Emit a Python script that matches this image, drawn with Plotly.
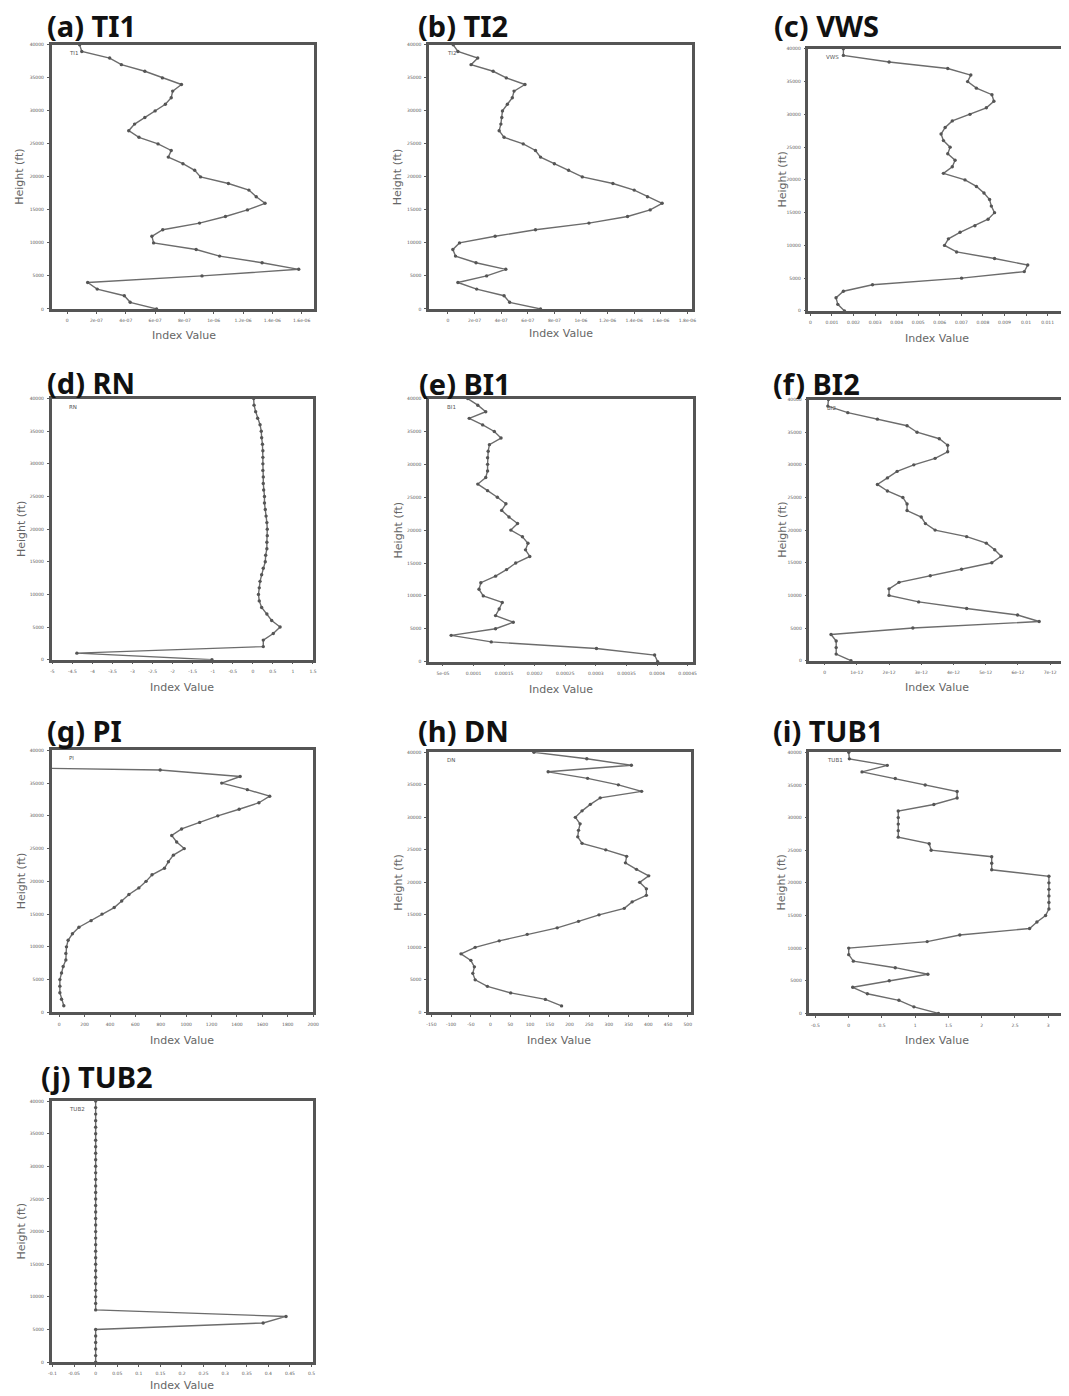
import plotly.graph_objects as go

# The page body has an 8px margin; the figure is sized/positioned to compensate.
PAGE_OFF = 8
W, H = 1069 - PAGE_OFF, 1396 - PAGE_OFF

# ---------------- data ----------------
heights_ft = [0, 1000, 2000, 3000, 4000, 5000, 6000, 7000, 8000, 9000, 10000,
              11000, 12000, 13000, 14000, 15000, 16000, 17000, 18000, 19000, 20000,
              21000, 22000, 23000, 24000, 25000, 26000, 27000, 28000, 29000, 30000,
              31000, 32000, 33000, 34000, 35000, 36000, 37000, 38000, 39000, 40000]

ti1 = [6.1e-07, 4.3e-07, 3.9e-07, 2.05e-07, 1.4e-07, 9.2e-07, 1.58e-06, 1.33e-06, 1.04e-06, 8.8e-07,
       5.9e-07, 5.78e-07, 6.52e-07, 9.03e-07, 1.08e-06, 1.23e-06, 1.35e-06, 1.29e-06, 1.24e-06, 1.10e-06,
       9.1e-07, 8.7e-07, 7.9e-07, 6.9e-07, 7.1e-07, 6.2e-07, 4.9e-07, 4.2e-07, 4.6e-07, 5.3e-07,
       6.0e-07, 6.7e-07, 7.1e-07, 7.2e-07, 7.8e-07, 6.5e-07, 5.3e-07, 3.7e-07, 2.9e-07, 1.0e-07, 8.5e-08]

ti2 = [6.96e-07, 4.64e-07, 4.22e-07, 2.16e-07, 7.5e-08, 2.91e-07, 4.35e-07, 2.11e-07, 5.7e-08, 3.7e-08,
       8.7e-08, 3.55e-07, 6.58e-07, 1.06e-06, 1.35e-06, 1.52e-06, 1.61e-06, 1.50e-06, 1.40e-06, 1.24e-06,
       1.01e-06, 9.07e-07, 8.0e-07, 6.96e-07, 6.58e-07, 5.66e-07, 4.22e-07, 3.85e-07, 3.98e-07, 4.05e-07,
       4.10e-07, 4.47e-07, 4.84e-07, 4.97e-07, 5.79e-07, 4.39e-07, 3.40e-07, 1.74e-07, 2.24e-07, 7.5e-08, 4.0e-08]

vws = [0.00158, 0.00127, 0.00119, 0.00153, 0.00288, 0.00701, 0.00992, 0.01008, 0.00854, 0.00678,
       0.00622, 0.00640, 0.00694, 0.00763, 0.00824, 0.00854, 0.00839, 0.00831, 0.00805, 0.00770,
       0.00717, 0.00617, 0.00658, 0.00671, 0.00637, 0.00648, 0.00617, 0.00606, 0.00625, 0.00658,
       0.00740, 0.00816, 0.00851, 0.00842, 0.00770, 0.00729, 0.00744, 0.00637, 0.00365, 0.00153, 0.00153]

rn = [-1.02, -4.39, 0.26, 0.26, 0.51, 0.68, 0.47, 0.35, 0.22, 0.16,
      0.14, 0.16, 0.18, 0.22, 0.26, 0.31, 0.32, 0.35, 0.35, 0.36,
      0.36, 0.35, 0.33, 0.31, 0.29, 0.29, 0.27, 0.26, 0.26, 0.25,
      0.25, 0.25, 0.25, 0.24, 0.22, 0.21, 0.18, 0.12, 0.07, 0.03, 0.02]

bi1 = [4.01e-04, 3.96e-04, 3.01e-04, 1.29e-04, 6.35e-05, 1.36e-04, 1.65e-04, 1.36e-04, 1.42e-04, 1.47e-04,
       1.16e-04, 1.09e-04, 1.12e-04, 1.36e-04, 1.54e-04, 1.69e-04, 1.92e-04, 1.85e-04, 1.89e-04, 1.80e-04,
       1.61e-04, 1.72e-04, 1.58e-04, 1.46e-04, 1.53e-04, 1.39e-04, 1.23e-04, 1.07e-04, 1.20e-04, 1.23e-04,
       1.23e-04, 1.23e-04, 1.24e-04, 1.26e-04, 1.45e-04, 1.34e-04, 1.15e-04, 9.3e-05, 1.20e-04, 1.07e-04, 9.05e-05]

bi2 = [8.2e-13, 3.6e-13, 3.6e-13, 3.6e-13, 2.0e-13, 2.74e-12, 6.66e-12, 5.99e-12, 4.41e-12, 2.92e-12,
       2.0e-12, 2.0e-12, 2.31e-12, 3.28e-12, 4.25e-12, 5.19e-12, 5.48e-12, 5.28e-12, 5.02e-12, 4.41e-12,
       3.43e-12, 3.13e-12, 3.0e-12, 2.56e-12, 2.56e-12, 2.43e-12, 1.95e-12, 1.64e-12, 1.95e-12, 2.25e-12,
       2.77e-12, 3.43e-12, 3.82e-12, 3.82e-12, 3.56e-12, 2.87e-12, 2.56e-12, 1.64e-12, 7.2e-13, 1.0e-13, 1.2e-13]

# -9999 = undefined value (drawn toward the frame, as in the original plot)
pi = [None, 36, 18, 5, 5, 5, 18, 31, 52, 52,
      57, 70, 104, 155, 251, 337, 433, 492, 549, 627,
      684, 731, 829, 860, 899, 985, 925, 886, 964, 1106,
      1249, 1417, 1573, 1658, 1482, 1280, 1425, 795, -9999, -9999, -9999]

dn = [None, 180, 139, 51, -8, -39, -45, -41, -50, -75,
      -39, 22, 93, 169, 223, 275, 339, 359, 395, 395,
      378, 401, 370, 342, 345, 292, 232, 221, 223, 227,
      215, 232, 253, 278, 383, 324, 246, 146, 357, 244, 110]

tub1 = [1.35, 0.98, 0.755, 0.28, 0.06, 0.61, 1.19, 0.70, 0.07, 0.0,
        0.0, 1.18, 1.67, 2.72, 2.83, 2.96, 3.01, 3.01, 3.01, 3.01,
        3.01, 3.01, 2.15, 2.15, 2.15, 1.24, 1.21, 0.745, 0.745, 0.745,
        0.745, 0.745, 1.28, 1.63, 1.63, 1.15, 0.70, 0.20, 0.58, 0.01, 0.0]

tub2 = [0, 0, 0, 0, 0, 0, 0.388, 0.441, 0, 0,
        0, 0, 0, 0, 0, 0, 0, 0, 0, 0,
        0, 0, 0, 0, 0, 0, 0, 0, 0, 0,
        0, 0, 0, 0, 0, 0, 0, 0, 0, 0, 0]

# tick labels
y_tickvals = [0, 5000, 10000, 15000, 20000, 25000, 30000, 35000, 40000]
y_ticktext = ["0", "5000", "10000", "15000", "20000", "25000", "30000", "35000", "40000"]

ti1_tickvals = [0, 2e-7, 4e-7, 6e-7, 8e-7, 1e-6, 1.2e-6, 1.4e-6, 1.6e-6]
ti1_ticktext = ["0", "2e-07", "4e-07", "6e-07", "8e-07", "1e-06", "1.2e-06", "1.4e-06", "1.6e-06"]
ti2_tickvals = [0, 2e-7, 4e-7, 6e-7, 8e-7, 1e-6, 1.2e-6, 1.4e-6, 1.6e-6, 1.8e-6]
ti2_ticktext = ["0", "2e-07", "4e-07", "6e-07", "8e-07", "1e-06", "1.2e-06", "1.4e-06", "1.6e-06", "1.8e-06"]
vws_tickvals = [0, 0.001, 0.002, 0.003, 0.004, 0.005, 0.006, 0.007, 0.008, 0.009, 0.01, 0.011]
vws_ticktext = ["0", "0.001", "0.002", "0.003", "0.004", "0.005", "0.006", "0.007", "0.008", "0.009", "0.01", "0.011"]
rn_tickvals = [-5, -4.5, -4, -3.5, -3, -2.5, -2, -1.5, -1, -0.5, 0, 0.5, 1, 1.5]
rn_ticktext = ["-5", "-4.5", "-4", "-3.5", "-3", "-2.5", "-2", "-1.5", "-1", "-0.5", "0", "0.5", "1", "1.5"]
bi1_tickvals = [5e-5, 1e-4, 1.5e-4, 2e-4, 2.5e-4, 3e-4, 3.5e-4, 4e-4, 4.5e-4]
bi1_ticktext = ["5e-05", "0.0001", "0.00015", "0.0002", "0.00025", "0.0003", "0.00035", "0.0004", "0.00045"]
bi2_tickvals = [0, 1e-12, 2e-12, 3e-12, 4e-12, 5e-12, 6e-12, 7e-12]
bi2_ticktext = ["0", "1e-12", "2e-12", "3e-12", "4e-12", "5e-12", "6e-12", "7e-12"]
pi_tickvals = [0, 200, 400, 600, 800, 1000, 1200, 1400, 1600, 1800, 2000]
pi_ticktext = ["0", "200", "400", "600", "800", "1000", "1200", "1400", "1600", "1800", "2000"]
dn_tickvals = [-150, -100, -50, 0, 50, 100, 150, 200, 250, 300, 350, 400, 450, 500]
dn_ticktext = ["-150", "-100", "-50", "0", "50", "100", "150", "200", "250", "300", "350", "400", "450", "500"]
tub1_tickvals = [-0.5, 0, 0.5, 1, 1.5, 2, 2.5, 3]
tub1_ticktext = ["-0.5", "0", "0.5", "1", "1.5", "2", "2.5", "3"]
tub2_tickvals = [-0.1, -0.05, 0, 0.05, 0.1, 0.15, 0.2, 0.25, 0.3, 0.35, 0.4, 0.45, 0.5]
tub2_ticktext = ["-0.1", "-0.05", "0", "0.05", "0.1", "0.15", "0.2", "0.25", "0.3", "0.35", "0.4", "0.45", "0.5"]

# ---------------- layout config (screen pixel positions) ----------------
panels = [
    dict(name="TI1", title="(a) TI1", s=ti1, tv=ti1_tickvals, tt=ti1_ticktext, box=(48, 313, 43, 308),
         xr=[-1.06e-7, 1.685e-6], tpos=(41, 24), ylx=16, xlab=(182, 335), right=True),
    dict(name="TI2", title="(b) TI2", s=ti2, tv=ti2_tickvals, tt=ti2_ticktext, box=(429, 694, 43, 308),
         xr=[-1.42e-7, 1.831e-6], tpos=(416, 24), ylx=398, xlab=(562, 333), right=True),
    dict(name="VWS", title="(c) VWS", s=vws, tv=vws_tickvals, tt=vws_ticktext, box=(812, 1069, 47, 310),
         xr=[-9.2e-5, 0.011715], tpos=(775, 24), ylx=786, xlab=(942, 338), right=False),
    dict(name="RN", title="(d) RN", s=rn, tv=rn_tickvals, tt=rn_ticktext, box=(48, 312, 398, 660),
         xr=[-5.02, 1.504], tpos=(41, 382), ylx=17, xlab=(180, 688), right=True),
    dict(name="BI1", title="(e) BI1", s=bi1, tv=bi1_tickvals, tt=bi1_ticktext, box=(429, 695, 398, 662),
         xr=[2.73e-5, 4.58e-4], tpos=(417, 383), ylx=398, xlab=(562, 690), right=True),
    dict(name="BI2", title="(f) BI2", s=bi2, tv=bi2_tickvals, tt=bi2_ticktext, box=(813, 1069, 399, 661),
         xr=[-4.71e-13, 7.40e-12], tpos=(774, 383), ylx=785, xlab=(942, 688), right=False),
    dict(name="PI", title="(g) PI", s=pi, tv=pi_tickvals, tt=pi_ticktext, box=(48, 312, 751, 1014),
         xr=[-60, 2000], tpos=(41, 731), ylx=17, xlab=(180, 1042), right=True),
    dict(name="DN", title="(h) DN", s=dn, tv=dn_tickvals, tt=dn_ticktext, box=(429, 693, 753, 1014),
         xr=[-156, 507], tpos=(416, 731), ylx=398, xlab=(560, 1042), right=True),
    dict(name="TUB1", title="(i) TUB1", s=tub1, tv=tub1_tickvals, tt=tub1_ticktext, box=(813, 1069, 753, 1015),
         xr=[-0.591, 3.222], tpos=(774, 731), ylx=785, xlab=(942, 1042), right=False),
    dict(name="TUB2", title="(j) TUB2", s=tub2, tv=tub2_tickvals, tt=tub2_ticktext, box=(48, 312, 1103, 1365),
         xr=[-0.102, 0.5038], tpos=(35, 1078), ylx=18, xlab=(180, 1388), right=True),
]

FRAME = "#555555"
LINE = "#6c6c6c"
MARK = "#555555"
TICKC = "#5a5a5a"

fig = go.Figure()
layout = dict(width=W, height=H, margin=dict(l=0, r=0, t=0, b=0),
              paper_bgcolor="white", plot_bgcolor="white", showlegend=False,
              annotations=[])


def px(x):
    return min(1.0, max(0.0, (x - PAGE_OFF) / W))


def py(y):
    return min(1.0, max(0.0, 1 - (y - PAGE_OFF) / H))


for i, p in enumerate(panels, start=1):
    x0, x1, y0, y1 = p["box"]
    sfx = "" if i == 1 else str(i)
    fig.add_trace(go.Scatter(
        x=p["s"], y=heights_ft, mode="lines+markers",
        line=dict(color=LINE, width=1.4),
        marker=dict(size=3.4, color=MARK),
        cliponaxis=False, connectgaps=False,
        xaxis="x" + sfx, yaxis="y" + sfx, name=p["name"]))
    layout["xaxis" + sfx] = dict(
        domain=[px(x0), px(x1)], anchor="y" + sfx, range=p["xr"],
        tickmode="array", tickvals=p["tv"], ticktext=p["tt"],
        showline=True, linecolor=FRAME, linewidth=2.5, mirror=True,
        ticks="outside", ticklen=2, tickwidth=1, tickcolor=TICKC,
        tickfont=dict(size=4.5, color=TICKC, family="DejaVu Sans"),
        ticklabelstandoff=3,
        showgrid=False, zeroline=False, fixedrange=True)
    layout["yaxis" + sfx] = dict(
        domain=[py(y1), py(y0)], anchor="x" + sfx, range=[0, 40000],
        tickmode="array", tickvals=y_tickvals, ticktext=y_ticktext,
        showline=True, linecolor=FRAME, linewidth=2.5, mirror=p["right"],
        ticks="outside", ticklen=2, tickwidth=1, tickcolor=TICKC,
        tickfont=dict(size=4.5, color=TICKC, family="DejaVu Sans"),
        ticklabelstandoff=2,
        showgrid=False, zeroline=False, fixedrange=True)

    ann = layout["annotations"]
    # panel title
    ann.append(dict(x=px(p["tpos"][0]), y=py(p["tpos"][1]), xref="paper", yref="paper",
                    text="<b>" + p["title"] + "</b>", showarrow=False,
                    xanchor="left", yanchor="middle",
                    font=dict(size=29, color="#111111", family="Noto Sans")))
    # in-plot series label
    ann.append(dict(x=px(x0 + 16), y=py(y0 + 8), xref="paper", yref="paper",
                    text=p["name"], showarrow=False, xanchor="left", yanchor="middle",
                    font=dict(size=5.5, color="#555555", family="DejaVu Sans")))
    # y-axis title
    ann.append(dict(x=px(p["ylx"]), y=py((y0 + y1) / 2), xref="paper", yref="paper",
                    text="Height (ft)", textangle=-90, showarrow=False,
                    xanchor="center", yanchor="middle",
                    font=dict(size=11, color="#666666", family="DejaVu Sans")))
    # x-axis title
    ann.append(dict(x=px(p["xlab"][0]), y=py(p["xlab"][1]), xref="paper", yref="paper",
                    text="Index Value", showarrow=False,
                    xanchor="center", yanchor="middle",
                    font=dict(size=11, color="#666666", family="DejaVu Sans")))

fig.update_layout(**layout)
fig.write_html("out.html")
